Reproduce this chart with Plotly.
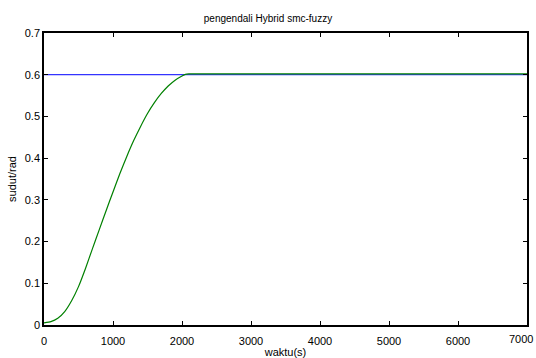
import plotly.graph_objects as go

# reference (setpoint)
ref_t = [0, 7000]
ref_y = [0.6, 0.6]

# system response
resp_t = [0, 100, 200, 300, 400, 500, 600, 700, 800, 900, 1000, 1100, 1200, 1300, 1400, 1500, 1600, 1700,
          1800, 1900, 2000, 2050, 2100, 3000, 4000, 5000, 6000, 7000]
resp_y = [0.005, 0.008, 0.016, 0.032, 0.058, 0.092, 0.135, 0.182, 0.228, 0.274, 0.319, 0.363, 0.404, 0.442,
          0.476, 0.507, 0.533, 0.555, 0.573, 0.587, 0.597, 0.601, 0.602, 0.602, 0.602, 0.602, 0.602, 0.602]

xticks = [0, 1000, 2000, 3000, 4000, 5000, 6000, 7000]
yticks = [0, 0.1, 0.2, 0.3, 0.4, 0.5, 0.6, 0.7]
ytick_text = ["0", "0.1", "0.2", "0.3", "0.4", "0.5", "0.6", "0.7"]

FONT = "Liberation Sans, Arial, sans-serif"

fig = go.Figure()
fig.add_trace(go.Scatter(x=ref_t, y=ref_y, mode="lines", line=dict(color="#0000ff", width=1)))
fig.add_trace(go.Scatter(x=resp_t, y=resp_y, mode="lines",
                         line=dict(color="#008000", width=1.2, shape="spline", smoothing=0.5)))

fig.update_layout(
    width=536, height=358,
    margin=dict(l=44, r=9, t=33, b=33, autoexpand=False),
    paper_bgcolor="white", plot_bgcolor="white",
    showlegend=False,
    font=dict(family=FONT, size=11, color="black"),
    title=dict(text="pengendali Hybrid smc-fuzzy", x=0.5, xanchor="center", y=1 - 18/358, yanchor="middle",
               yref="container", font=dict(family=FONT, size=10, color="black")),
    xaxis=dict(range=[0, 7000], tickvals=xticks[:-1], ticks="inside", ticklen=4, tickcolor="black",
               showline=True, linecolor="black", linewidth=1.5, mirror="ticks", showgrid=False, zeroline=False,
               ticklabelstandoff=5, automargin=False,
               title=dict(text="waktu(s)", standoff=2, font=dict(size=11))),
    yaxis=dict(range=[0, 0.7], tickvals=yticks, ticktext=ytick_text, ticks="inside", ticklen=4, tickcolor="black",
               showline=True, linecolor="black", linewidth=1.5, mirror="ticks", showgrid=False, zeroline=False,
               automargin=False,
               title=dict(text="sudut/rad", standoff=6, font=dict(size=11))),
)
# last x tick label sits at the right edge; nudge it left so it stays fully visible
fig.add_annotation(x=xticks[-1], xref="x", y=0, yref="paper", yanchor="top", xanchor="center",
                   text=str(xticks[-1]), showarrow=False, yshift=-6, xshift=-6,
                   font=dict(family=FONT, size=11, color="black"))
fig.update_layout(xaxis2=dict(overlaying="x", range=[0, 7000], tickvals=[xticks[-1]], showticklabels=False,
                              ticks="inside", ticklen=4, tickcolor="black", showgrid=False, zeroline=False,
                              side="bottom", anchor="y", automargin=False))
fig.write_html("out.html")
